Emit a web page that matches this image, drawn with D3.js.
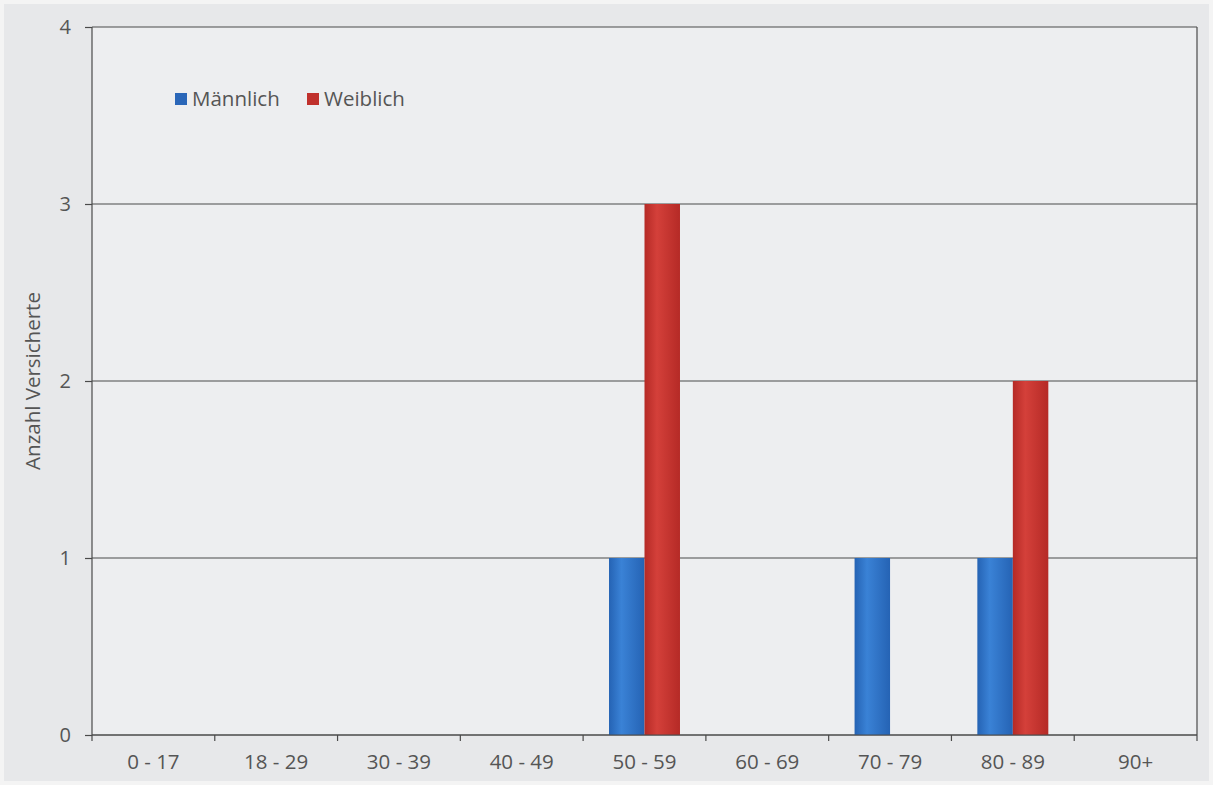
<!DOCTYPE html>
<html>
<head>
<meta charset="utf-8">
<script src="https://cdn.jsdelivr.net/npm/d3@7"></script>
<style>
    body { margin: 0; background: #f4f4f4; }
    text { font-family: "Open Sans", sans-serif; fill: #555; }
    .grid line { stroke: #4a4a4a; stroke-width: 1.2; }
</style>
</head>
<body>
<script>
// chart data
var categories = ["0 - 17", "18 - 29", "30 - 39", "40 - 49", "50 - 59", "60 - 69", "70 - 79", "80 - 89", "90+"];
var maennlich = [0, 0, 0, 0, 1, 0, 1, 1, 0];
var weiblich  = [0, 0, 0, 0, 3, 0, 0, 2, 0];
var seriesNames = ["Männlich", "Weiblich"];
var yTicks = [0, 1, 2, 3, 4];

var width = 1213,
    height = 785;
var margin = {top: 27, right: 16, bottom: 50, left: 92};

var svg = d3.select("body")
    .append("svg")
    .attr("width", width)
    .attr("height", height);

//gradients for the bars
var defs = svg.append("defs");
function addGrad(id, edge, mid){
    var g = defs.append("linearGradient").attr("id", id)
        .attr("x1", "0%").attr("x2", "100%").attr("y1", "0%").attr("y2", "0%");
    g.append("stop").attr("offset", "0%").attr("stop-color", edge);
    g.append("stop").attr("offset", "35%").attr("stop-color", mid);
    g.append("stop").attr("offset", "100%").attr("stop-color", edge);
}
addGrad("gradBlue", "#2563b4", "#3a82d6");
addGrad("gradRed", "#b52a26", "#d4403a");
var fills = ["url(#gradBlue)", "url(#gradRed)"];
var legendColors = ["#2a66b8", "#c0302c"];

//outer background
svg.append("rect")
    .attr("x", 4).attr("y", 4)
    .attr("width", width - 8).attr("height", height - 8)
    .attr("fill", "#e7e8ea");

var x = d3.scaleBand()
    .domain(categories)
    .range([margin.left, width - margin.right]);

var xInner = d3.scaleBand()
    .domain(seriesNames)
    .range([0, x.bandwidth()])
    .paddingOuter(0.73);

var y = d3.scaleLinear()
    .domain([0, 4])
    .range([height - margin.bottom, margin.top]);

//plot area
svg.append("rect")
    .attr("x", margin.left).attr("y", margin.top)
    .attr("width", width - margin.right - margin.left)
    .attr("height", y(0) - margin.top)
    .attr("fill", "#edeef0");

//grid lines
svg.append("g")
    .attr("class", "grid")
    .selectAll("line")
    .data(yTicks)
    .enter()
    .append("line")
    .attr("x1", margin.left)
    .attr("x2", width - margin.right)
    .attr("y1", function(d){ return y(d); })
    .attr("y2", function(d){ return y(d); });

//right border
svg.append("line")
    .attr("x1", width - margin.right).attr("x2", width - margin.right)
    .attr("y1", margin.top).attr("y2", y(0))
    .attr("stroke", "#4a4a4a").attr("stroke-width", 1.2);

//bars
var rows = categories.map(function(c, i){
    return {cat: c, values: [maennlich[i], weiblich[i]]};
});
var groups = svg.selectAll(".group")
    .data(rows)
    .enter()
    .append("g")
    .attr("transform", function(d){ return "translate(" + x(d.cat) + ",0)"; });

groups.selectAll("rect")
    .data(function(d){
        return d.values.map(function(v, j){ return {name: seriesNames[j], value: v, j: j}; });
    })
    .enter()
    .append("rect")
    .filter(function(d){ return d.value > 0; })
    .attr("x", function(d){ return xInner(d.name); })
    .attr("width", xInner.bandwidth())
    .attr("y", function(d){ return y(d.value); })
    .attr("height", function(d){ return y(0) - y(d.value); })
    .attr("fill", function(d){ return fills[d.j]; });

//y axis
var yAxis = d3.axisLeft(y)
    .tickValues(yTicks)
    .tickFormat(d3.format("d"))
    .tickSize(7)
    .tickPadding(14);
var yG = svg.append("g")
    .attr("transform", "translate(" + margin.left + ",0)")
    .call(yAxis);
yG.selectAll("line, path").attr("stroke", "#4a4a4a").attr("stroke-width", 1.2);
yG.select(".domain").attr("d", "M0," + y(4) + "V" + y(0));
yG.selectAll("text").style("font-size", "20px").attr("fill", "#555");

//x axis, ticks at band boundaries
var boundaries = categories.map(function(c){ return x(c); }).concat([width - margin.right]);
var xG = svg.append("g");
xG.append("line")
    .attr("x1", margin.left).attr("x2", width - margin.right)
    .attr("y1", y(0)).attr("y2", y(0))
    .attr("stroke", "#4a4a4a").attr("stroke-width", 1.2);
xG.selectAll(".xtick")
    .data(boundaries)
    .enter()
    .append("line")
    .attr("x1", function(d){ return d; })
    .attr("x2", function(d){ return d; })
    .attr("y1", y(0))
    .attr("y2", y(0) + 6)
    .attr("stroke", "#4a4a4a").attr("stroke-width", 1.2);
xG.selectAll(".xlabel")
    .data(categories)
    .enter()
    .append("text")
    .attr("x", function(d){ return x(d) + x.bandwidth() / 2; })
    .attr("y", y(0) + 34)
    .attr("text-anchor", "middle")
    .style("font-size", "20.5px")
    .text(function(d){ return d; });

//y axis title
svg.append("text")
    .attr("transform", "translate(40," + ((margin.top + y(0)) / 2) + ") rotate(-90)")
    .attr("text-anchor", "middle")
    .style("font-size", "20.5px")
    .text("Anzahl Versicherte");

//legend
var legendX = [175, 307];
var legend = svg.selectAll(".legend")
    .data(seriesNames)
    .enter()
    .append("g")
    .attr("transform", function(d, i){ return "translate(" + legendX[i] + ",93)"; });
legend.append("rect")
    .attr("width", 12).attr("height", 12)
    .attr("fill", function(d, i){ return legendColors[i]; });
legend.append("text")
    .attr("x", 17).attr("y", 13)
    .style("font-size", "20.5px")
    .text(function(d){ return d; });
</script>
</body>
</html>
